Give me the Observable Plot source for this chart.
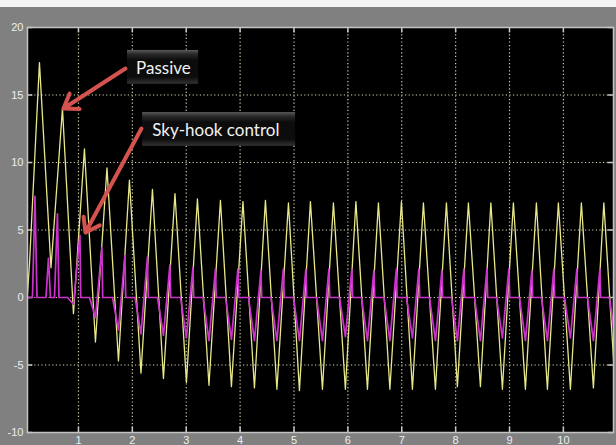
<!DOCTYPE html>
<html>
<head>
<meta charset="utf-8">
<script src="https://cdn.jsdelivr.net/npm/d3@7"></script>
<script src="https://cdn.jsdelivr.net/npm/@observablehq/plot@0.6"></script>
<style>
  html, body { margin: 0; padding: 0; background: #808080; }
  svg { display: block; }
</style>
</head>
<body>
<div id="chart"></div>
<script>
// ---- tick labels ----
const xTicks = [1, 2, 3, 4, 5, 6, 7, 8, 9, 10];
const yTicks = [-10, -5, 0, 5, 10, 15, 20];
const yGrid = [-5, 0, 5, 10, 15];

// ---- Passive (yellow) : vertices ----
const passiveT = [0.054, 0.091, 0.276, 0.490, 0.703, 0.907, 1.111, 1.315, 1.529, 1.742, 1.946, 2.160, 2.373, 2.577, 2.791, 3.004, 3.208, 3.422, 3.635, 3.839, 4.053, 4.266, 4.470, 4.683, 4.897, 5.101, 5.305, 5.528, 5.732, 5.954, 6.149, 6.363, 6.567, 6.780, 6.994, 7.198, 7.402, 7.625, 7.829, 8.033, 8.237, 8.460, 8.654, 8.868, 9.072, 9.295, 9.499, 9.703, 9.907, 10.130, 10.334, 10.557, 10.751, 10.965];
const passiveV = [0.3, 2.5, 17.4, 2.2, 14.0, -1.2, 11.0, -3.3, 9.6, -4.7, 8.7, -5.6, 8.0, -6.0, 7.7, -6.3, 7.3, -6.5, 7.2, -6.6, 7.1, -6.7, 7.2, -6.8, 7.0, -6.9, 7.1, -6.8, 7.0, -6.8, 7.1, -6.8, 7.0, -6.8, 7.1, -6.8, 7.0, -6.8, 7.0, -6.6, 7.0, -6.6, 7.0, -6.8, 7.0, -6.8, 7.0, -6.8, 7.0, -6.8, 7.0, -6.7, 7.0, -6.8];

// ---- Sky-hook control (magenta) ----
// start-up pulses
const skyStartT = [0.054, 0.146, 0.193, 0.230, 0.397, 0.443, 0.480, 0.555, 0.610, 0.638];
const skyStartV = [0, 0, 7.5, 0, 0, 2.9, 0, 0, 6.2, 0];
// per cycle: time of the dip, dip value, pulse value
const skyDipT = [0.907, 1.315, 1.742, 2.160, 2.577, 3.004, 3.422, 3.839, 4.266, 4.683, 5.101, 5.528, 5.954, 6.363, 6.780, 7.198, 7.625, 8.033, 8.460, 8.868, 9.295, 9.703, 10.130, 10.557, 10.965];
const skyDipV = [-0.5, -1.5, -2.4, -2.7, -2.8, -3.0, -3.2, -3.1, -3.2, -3.2, -3.2, -3.2, -2.9, -3.2, -3.2, -3.0, -3.2, -3.2, -3.2, -3.0, -3.2, -3.2, -3.0, -3.2, -3.2];
const skyPulseV = [4.6, 3.7, 3.1, 3.0, 2.4, 2.2, 2.1, 2.1, 2.0, 2.1, 2.1, 2.1, 2.1, 2.0, 2.1, 2.1, 2.0, 2.1, 2.1, 2.1, 2.0, 2.1, 2.1, 2.1, 2.1];

// ---- annotations ----
const labelText = ["Passive", "Sky-hook control"];
const labelX = [2.07, 2.37];
const labelY = [16.95, 12.4];
const boxX1 = [1.91, 2.19];
const boxX2 = [3.23, 5.03];
const boxY1 = [18.3, 13.7];
const boxY2 = [15.8, 11.2];
const arrowX1 = [1.872, 2.169];
const arrowY1 = [16.96, 12.52];
const arrowX2 = [0.722, 1.13];
const arrowY2 = [14.0, 4.81];

// ---- tables ----
const passive = passiveT.map((t, i) => ({t, v: passiveV[i]}));
const sky = skyStartT.map((t, i) => ({t, v: skyStartV[i]}));
skyDipT.forEach((T, i) => {
  sky.push({t: T - 0.11, v: 0});
  sky.push({t: T, v: skyDipV[i]});
  sky.push({t: T + 0.12, v: skyPulseV[i]});
  sky.push({t: T + 0.135, v: 0});
});
const labels = labelText.map((text, i) => ({text, x: labelX[i], y: labelY[i]}));
const boxes = labelText.map((_, i) => ({x1: boxX1[i], x2: boxX2[i], y1: boxY1[i], y2: boxY2[i]}));
const arrows = arrowX1.map((_, i) => ({x1: arrowX1[i], y1: arrowY1[i], x2: arrowX2[i], y2: arrowY2[i]}));

const xDom = [0.054, 10.93];
const yDom = [-10, 20];
const tickLenX = 0.1;   // in x units
const tickLenY = 0.4;   // in y units

const grid = "#d6d6b4";
const chart = Plot.plot({
  width: 616,
  height: 445,
  marginLeft: 27,
  marginRight: 3,
  marginTop: 27,
  marginBottom: 13,
  style: {
    background: "linear-gradient(#f4f4f4 0 7px, #808080 7px)",
    color: "#eeeeee",
    fontFamily: "'Liberation Sans', Arial, sans-serif",
    fontSize: "11px"
  },
  x: {domain: xDom},
  y: {domain: yDom},
  marks: [
    Plot.frame({fill: "#000000"}),
    Plot.ruleX(xTicks, {stroke: grid, strokeWidth: 1.2, strokeDasharray: "1.2,2.4"}),
    Plot.ruleY(yGrid, {stroke: grid, strokeWidth: 1.2, strokeDasharray: "1.2,2.4"}),
    // inner ticks
    Plot.ruleX(xTicks, {y1: yDom[0], y2: yDom[0] + tickLenY, stroke: "#c8c8c8", strokeWidth: 1.5}),
    Plot.ruleX(xTicks, {y1: yDom[1], y2: yDom[1] - tickLenY, stroke: "#c8c8c8", strokeWidth: 1.5}),
    Plot.ruleY(yTicks, {x1: xDom[0], x2: xDom[0] + tickLenX, stroke: "#c8c8c8", strokeWidth: 1.5}),
    Plot.ruleY(yTicks, {x1: xDom[1], x2: xDom[1] - tickLenX, stroke: "#c8c8c8", strokeWidth: 1.5}),
    Plot.line(passive, {x: "t", y: "v", stroke: "#e8e88a", strokeWidth: 1.3, clip: true}),
    Plot.line(sky, {x: "t", y: "v", stroke: "#cc33cc", strokeWidth: 1.7, clip: true}),
    Plot.frame({stroke: "#c4c4c4", strokeWidth: 1.5}),
    Plot.axisX(xTicks, {tickSize: 0, tickPadding: 4, label: null, fill: "#eeeeee", tickFormat: d => String(d)}),
    Plot.axisY(yTicks, {tickSize: 0, tickPadding: 4, label: null, fill: "#eeeeee", tickFormat: d => String(d)}),
    Plot.rect(boxes, {x1: "x1", x2: "x2", y1: "y1", y2: "y2", fill: "url(#boxg)"}),
    Plot.text(labels, {x: "x", y: "y", text: "text", textAnchor: "start", fill: "#f2f2f2", fontSize: 17, fontFamily: "Lato, sans-serif"}),
    Plot.arrow(arrows, {x1: "x1", y1: "y1", x2: "x2", y2: "y2", stroke: "#d4534f", strokeWidth: 4, headLength: 6, headAngle: 70})
  ]
});

d3.select(chart).insert("defs", ":first-child").html(
  '<linearGradient id="boxg" x1="0" y1="0" x2="0" y2="1">' +
  '<stop offset="0" stop-color="#5a5a5a"/>' +
  '<stop offset="0.12" stop-color="#2a2a2a"/>' +
  '<stop offset="0.3" stop-color="#0c0c0c"/>' +
  '<stop offset="0.8" stop-color="#0c0c0c"/>' +
  '<stop offset="1" stop-color="#333333"/>' +
  '</linearGradient>'
);
document.getElementById("chart").appendChild(chart);
</script>
</body>
</html>
